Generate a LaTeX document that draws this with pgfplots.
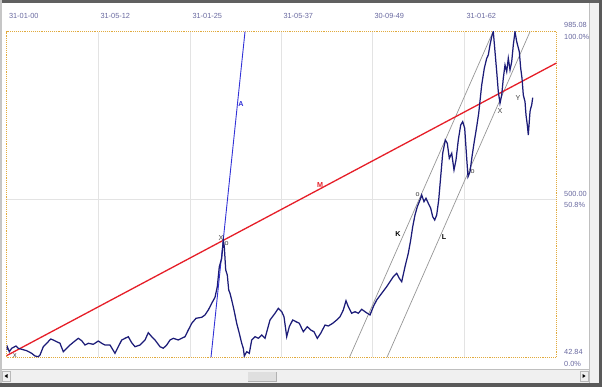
\documentclass[border=0pt]{standalone}
\usepackage{pgfplots}
\pgfplotsset{compat=1.18}
\usepackage{pgfplotstable}
\usepackage{fontspec}
\setmainfont{Liberation Sans}
\definecolor{series}{RGB}{28,28,120}
\definecolor{lblcol}{RGB}{105,105,160}
\definecolor{frameor}{RGB}{225,170,60}
\definecolor{redline}{RGB}{230,30,40}
\definecolor{blueline}{RGB}{50,50,215}
\definecolor{chanline}{RGB}{150,150,150}
\pgfplotstableread{
x y
0 64
0.8 73.5
2.8 59
5.2 69
9.5 75.5
11.8 69
15.2 66
20.2 62
25.2 54.4
28.5 46.6
31.8 44.6
33.5 49.5
36.8 73.5
40.2 83.4
44.2 95.8
46.8 92.9
50.2 88
53.5 83.4
56.8 59
60.2 69
63.5 78.4
67.5 88
71.8 97.8
75.2 90.9
78.5 78.4
81.8 83.4
86.8 80.5
91.8 90
95.2 83.4
98.5 78.4
103.5 78.4
108.5 54.4
111.8 73.5
115.2 92.9
118.5 97.8
121.8 102.5
125.2 85
128.5 73.5
133.5 78.4
138.5 92.9
141.8 114
145.2 102.5
148.5 92.9
153.5 73.5
156.8 69
160.2 78.4
163.5 92.9
166.8 97.8
171.8 92.9
175.2 97.8
178.5 102.5
181.8 121.8
185.2 141.2
189.5 155.7
195.2 158.6
198.5 165.3
201.8 179.7
205.2 199.1
208.5 216.5
210.8 247.2
212.8 305
215.2 329.3
216.8 382.3
217.8 363
219.2 295.5
220.8 281
222.2 237.6
223.5 228
225.2 208.7
227.5 179.7
230.2 141.2
232.8 112.3
235.2 83.4
236.8 69
237.8 46.6
240.2 59
242.8 54.4
245.2 92.9
248.5 102.5
251.8 97.8
255.2 107.4
258.5 97.8
263.5 150.8
268.5 170.2
271.8 184.6
275.2 174.8
277.5 160.3
280.2 102.5
282.8 131.4
286.2 150.8
289.5 145.9
292.8 141.2
296.8 116.9
300.8 131.4
304.2 121.8
307.5 116.9
310.8 97.8
314.2 112.3
318.5 136.3
321.8 133.4
326.2 141.2
330.2 150.8
333.5 160.3
336.8 179.7
339.5 206.6
341.8 189.3
345.2 170.2
348.5 174.8
351.8 170.2
355.2 181.8
358.5 174.8
363.5 165.3
366.8 189.3
370.2 208.7
375.2 228
380.2 247.2
383.5 261.6
386.8 276.1
390.2 285.9
392.8 271.5
395.2 261.6
398.5 305
401.8 343.8
404.2 382.3
406.2 420.8
408.5 454.7
410.8 478.7
413.5 498
415.2 512.5
417.5 493.2
419.5 503
421.8 488.5
424.2 474
426.2 449.7
428.2 440.2
430.2 454.7
432.2 498
434.2 565.5
436.2 633.2
438.8 671.7
440.8 662.2
442.8 618.7
445.2 633.2
447.5 584.9
449.5 613.8
451.8 671.7
454.2 715.1
456.2 724.7
458.2 705.6
460.2 618.7
461.5 565.5
463.5 580
465.5 623.4
467.5 662.2
470.2 710.2
472.2 749
475.2 830.9
477.8 879.2
480.2 908.1
481.8 917.7
483.5 946.6
485.2 970.7
486.8 985
488.5 927.3
490.2 869.4
491.8 811.5
493.5 777.9
495.2 801.9
496.8 850.3
498.5 888.7
500.2 869.4
501.8 908.1
503.5 874.3
505.2 898.3
506.8 946.6
508.5 985
510.2 956.2
512.8 927.3
514.2 879.2
515.5 850.3
516.8 801.9
518.5 782.5
519.5 744.1
520.8 715.1
521.8 686.2
523.5 753.6
524.2 763.4
525.2 773
526.2 794.1
}\pricedata
\begin{document}
\begin{tikzpicture}[x=1bp,y=1bp]
\useasboundingbox (0,0) rectangle (602,387);
% window chrome
\fill[white] (0,0) rectangle (602,387);
\fill[gray!75!black] (0,384) rectangle (602,387);
\fill[gray!45] (0,0) rectangle (2,387);
\fill[gray!12] (2,4) rectangle (589,18);
\draw[gray!50] (2,18) -- (589,18);
\fill[gray!12] (589,4) rectangle (599,384);
\draw[gray!50] (589,4) -- (589,384);
\fill[gray!70!black] (599,0) rectangle (602,387);
\fill[gray!70!black] (0,0) rectangle (602,4);
\fill[gray!25] (248,6) rectangle (276,15);
\draw[gray!60] (248,6) -- (276,6) -- (276,15);
\draw[gray!55] (2.5,6) rectangle (10,16);
\fill[black] (4.5,11) -- (7.5,13) -- (7.5,9) -- cycle;
\draw[gray!55] (580,6) rectangle (588,16);
\fill[black] (585.5,11) -- (582.5,13) -- (582.5,9) -- cycle;
\begin{axis}[
  at={(6.5bp,29.7bp)}, anchor=south west,
  scale only axis, width=550bp, height=325.6bp,
  xmin=0, xmax=550, ymin=42.84, ymax=985.08,
  axis line style={frameor, densely dotted, line width=0.9pt},
  xtick={91.5,183.5,274.5,365.5,457.5},
  xticklabels={31-05-12,31-01-25,31-05-37,30-09-49,31-01-62},
  extra x ticks={0}, extra x tick labels={31-01-00},
  extra x tick style={grid=none},
  xticklabel pos=upper,
  ytick={500}, yticklabels={},
  major tick length=0pt,
  xmajorgrids, ymajorgrids, grid style={gray!22, line width=0.6pt},
  xticklabel style={anchor=base west, yshift=13bp, xshift=-1bp, text=lblcol, font=\fontsize{7.4}{8}\selectfont},
  clip=true,
]
\addplot[chanline, line width=0.7pt] coordinates {(343,42.84) (486.5,985.08)};
\addplot[chanline, line width=0.7pt] coordinates {(380.5,42.84) (523.5,985.08)};
\addplot[redline, line width=1.3pt] coordinates {(0,47.5) (550,894.5)};
\addplot[blueline, line width=0.9pt] coordinates {(204.5,42.84) (238.5,985.08)};
\addplot[series, line width=1.25pt] table[x=x,y=y] {\pricedata};
\begin{scope}[font=\fontsize{7.2}{8}\selectfont, inner sep=0pt]
\node[blueline] at (axis cs:234.5,775.9) {\bfseries A};
\node[redline] at (axis cs:313.5,541.5) {\bfseries M};
\node at (axis cs:391.5,399.7) {\bfseries K};
\node at (axis cs:437.5,391) {\bfseries L};
\node[black!75] at (axis cs:493.5,755.6) {X};
\node[black!75] at (axis cs:511.5,793.3) {Y};
\node[black!75] at (axis cs:214.5,388.1) {X};
\node[black!75] at (axis cs:220,370.7) {o};
\node[black!75] at (axis cs:411,512.5) {o};
\node[black!75] at (axis cs:466,579.1) {o};
\node[black!75] at (axis cs:8.5,48) {x};
\end{scope}
\end{axis}
\begin{scope}[font=\fontsize{7.4}{8}\selectfont, text=lblcol, inner sep=0pt]
\node[anchor=base west] at (564,359.5) {985.08};
\node[anchor=base west] at (564,347.7) {100.0\%};
\node[anchor=base west] at (564,190.7) {500.00};
\node[anchor=base west] at (564,179.7) {50.8\%};
\node[anchor=base west] at (564,32.5) {42.84};
\node[anchor=base west] at (564,20.3) {0.0\%};
\end{scope}
\end{tikzpicture}
\end{document}
